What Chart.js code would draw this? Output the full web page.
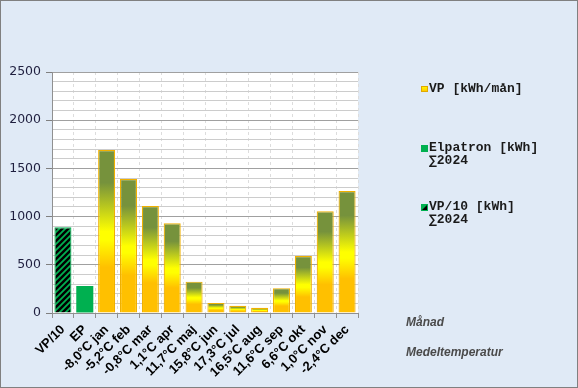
<!DOCTYPE html>
<html><head><meta charset="utf-8">
<script src="https://cdn.jsdelivr.net/npm/chart.js@4/dist/chart.umd.min.js"></script>
<style>html,body{margin:0;padding:0;background:#E0EAF6;}#wrap{width:578px;height:388px;position:relative;}</style>
</head><body><div id="wrap"><canvas id="c" width="578" height="388"></canvas></div>
<script>
const categories = ['VP/10','EP','-8,0°C jan','-5,2°C feb','-0,8°C mar','1,1°C apr','11,7°C maj','15,8°C jun','17,3°C jul','16,5°C aug','11,6°C sep','6,6°C okt','1,0°C nov','-2,4°C dec'];
const vpMonthly = [null,null,1690,1390,1110,930,325,105,75,55,258,590,1055,1265];
const elpatron = [null,280,null,null,null,null,null,null,null,null,null,null,null,null];
const vp10 = [890,null,null,null,null,null,null,null,null,null,null,null,null,null];
const legendLabels = [['VP [kWh/mån]'],['Elpatron [kWh]','∑2024'],['VP/10 [kWh]','∑2024']];
const axisTitles = ['Månad','Medeltemperatur'];

function hatch(){
  const c=document.createElement('canvas');c.width=6;c.height=6;
  const x=c.getContext('2d');x.fillStyle='#000';x.fillRect(0,0,6,6);
  x.strokeStyle='#00B050';x.lineWidth=1.8;
  x.beginPath();x.moveTo(-1,7);x.lineTo(7,-1);x.moveTo(-1,1);x.lineTo(1,-1);x.moveTo(5,7);x.lineTo(7,5);x.stroke();
  return x.createPattern(c,'repeat');
}
const hatchPattern = hatch();

function grad(ctx){
  const chart=ctx.chart; if(!chart.chartArea) return '#FFC000';
  const v=ctx.raw; if(v==null) return '#FFC000';
  const y=chart.scales.y; const t=y.getPixelForValue(v), b=y.getPixelForValue(0);
  const g=chart.ctx.createLinearGradient(0,t,0,b);
  g.addColorStop(0,'#76923C');g.addColorStop(0.2,'#76923C');
  g.addColorStop(0.5,'#FFFF00');g.addColorStop(0.55,'#FFFF00');
  g.addColorStop(0.72,'#FFC000');g.addColorStop(1,'#FFC000');
  return g;
}

const deco = {
  id:'deco',
  beforeDraw(chart){
    const c=chart.ctx;c.save();c.fillStyle='#E0EAF6';c.fillRect(0,0,chart.width,chart.height);
    const a=chart.chartArea;c.fillStyle='#FFFFFF';c.fillRect(a.left,a.top,a.right-a.left,a.bottom-a.top);c.restore();
  },
  afterDraw(chart){
    const c=chart.ctx;c.save();
    c.font='bold 13px "Liberation Mono"';c.fillStyle='#1a1a1a';c.textBaseline='middle';
    const ys=[89,148,207];
    legendLabels.forEach((lines,i)=>{
      lines.forEach((t,j)=>c.fillText(t,429,ys[i]+j*13));
    });
    let y0=ys[0]-3; let g=c.createLinearGradient(0,y0,0,y0+6);g.addColorStop(0,'#FFFF00');g.addColorStop(1,'#FFC000');
    c.fillStyle=g;c.fillRect(421,y0,7,6);c.strokeStyle='#E0A800';c.lineWidth=1;c.strokeRect(421.5,y0+0.5,6,5);
    c.fillStyle='#00B050';c.fillRect(421,ys[1]-3,7,7);
    c.fillStyle='#00B050';c.fillRect(421,ys[2]-3,7,7);
    c.fillStyle='#000';c.beginPath();c.moveTo(422,ys[2]+3);c.lineTo(427,ys[2]-2);c.lineTo(427,ys[2]+3);c.closePath();c.fill();
    c.font='italic bold 12px "Liberation Sans"';c.fillStyle='#4A4A4A';
    c.fillText(axisTitles[0],406,323);c.fillText(axisTitles[1],406,353);
    c.strokeStyle='#808080';c.lineWidth=1;c.strokeRect(0.5,0.5,chart.width-1,chart.height-1);
    c.restore();
  }
};

new Chart(document.getElementById('c'),{
  type:'bar',
  data:{labels:categories,datasets:[
    {label:'VP [kWh/mån]',data:vpMonthly,backgroundColor:grad,borderColor:'#F0B000',borderWidth:1.2},
    {label:'Elpatron [kWh]',data:elpatron,backgroundColor:'#00B050',borderColor:'#00B050',borderWidth:0},
    {label:'VP/10 [kWh]',data:vp10,backgroundColor:hatchPattern,borderColor:'#00B050',borderWidth:1.2}
  ]},
  options:{
    responsive:false,animation:false,devicePixelRatio:1,
    layout:{padding:{left:0,top:72,right:220,bottom:0}},
    plugins:{legend:{display:false},tooltip:{enabled:false}},
    datasets:{bar:{grouped:false,barPercentage:0.78,categoryPercentage:1,skipNull:true}},
    scales:{
      x:{
        afterFit(s){s.height=75;},
        grid:{color:'#DDDDDD',tickColor:'#909090',tickLength:5,offset:true},
        border:{color:'#909090',dash:[3,3]},
        ticks:{minRotation:45,maxRotation:45,autoSkip:false,color:'#000',padding:4,font:{family:'"Liberation Sans"',size:13,weight:'bold'}}
      },
      y:{
        min:0,max:2500,
        afterFit(s){s.width=52;},
        grid:{color:(ctx)=>ctx.tick&&ctx.tick.value%500===0?'#A0A0A0':'#CCCCCC',
              tickColor:(ctx)=>ctx.tick&&ctx.tick.value%500===0?'#808080':'rgba(0,0,0,0)',tickLength:6},
        border:{color:'#909090'},
        ticks:{stepSize:100,autoSkip:false,padding:5,color:'#1F1F3F',font:{family:'"DejaVu Sans"',size:12.5},
               callback:(v)=>v%500===0?String(v):''}
      }
    }
  },
  plugins:[deco]
});
</script></body></html>
